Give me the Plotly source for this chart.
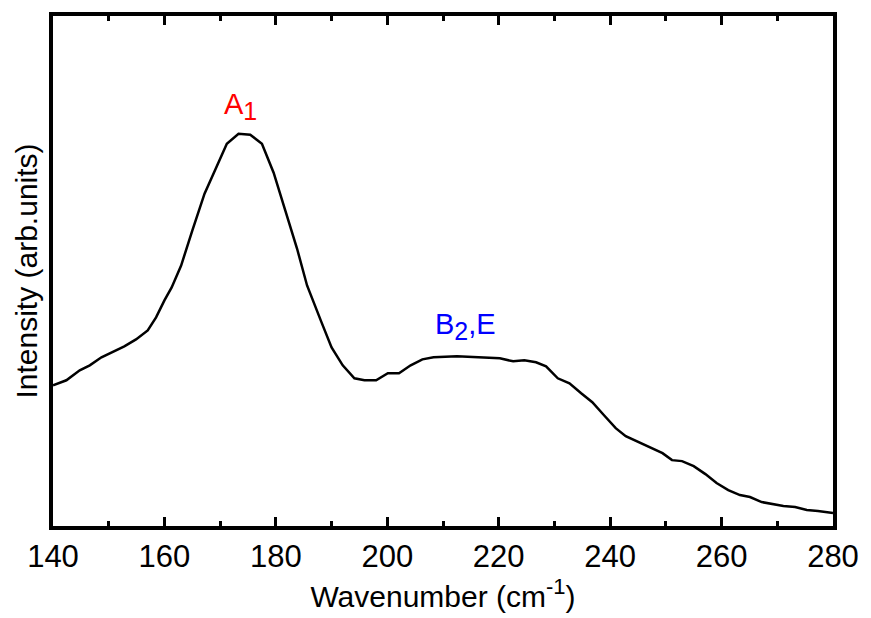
import plotly.graph_objects as go

wavenumber = [140.0, 142.4, 144.8, 146.6, 148.7, 150.7, 152.8, 154.9, 157.0, 158.5, 160.0,
              161.3, 163.0, 165.0, 167.2, 169.2, 171.2, 173.3, 175.4, 177.5, 179.6,
              181.7, 183.8, 185.6, 187.3, 188.2, 190.0, 192.0, 194.1, 195.9, 198.0,
              200.1, 202.1, 204.2, 206.3, 208.3, 212.5, 216.0, 218.4, 220.2, 222.6,
              224.6, 226.7, 228.5, 230.6, 232.7, 234.8, 236.8, 238.9, 241.0, 242.8,
              245.2, 247.3, 249.4, 251.1, 252.9, 255.0, 257.1, 259.1, 261.2, 263.3,
              265.1, 267.2, 269.3, 271.1, 273.2, 275.3, 277.3, 280.0]
intensity = [141, 146, 156, 161, 169, 174, 180, 187, 196, 209, 226,
             239, 261, 296, 333, 358, 383, 393, 392, 383, 354,
             316, 278, 241, 218, 204, 179, 161, 148, 146, 146,
             153, 153, 161, 167, 169, 170, 169, 168, 168, 165,
             166, 164, 160, 148, 143, 133, 124, 111, 98, 90,
             84, 79, 73, 66, 65, 60, 52, 43, 36, 31,
             29, 24, 22, 20, 19, 16, 15, 13]

x_ticks = [140, 160, 180, 200, 220, 240, 260, 280]
peak_labels = ["A<sub><span style='font-size:25px'>1</span></sub>",
               "B<sub><span style='font-size:25px'>2</span></sub>,E"]
peak_x = [173.6, 214.1]
peak_y = [420, 200]
peak_colors = ["#ff0000", "#0000ff"]

fig = go.Figure()
fig.add_trace(go.Scatter(x=wavenumber, y=intensity, mode="lines",
                         line=dict(color="black", width=2.5), showlegend=False))

for lab, px, py, col in zip(peak_labels, peak_x, peak_y, peak_colors):
    fig.add_annotation(x=px, y=py, text=lab, showarrow=False,
                       font=dict(family="Liberation Sans, Arial", size=29, color=col))

common_x = dict(range=[140, 280], tickvals=x_ticks, ticks="inside", ticklen=9,
                tickwidth=3, tickcolor="black", showgrid=False, zeroline=False,
                minor=dict(ticks="inside", dtick=10, ticklen=5, tickwidth=3,
                           tickcolor="black", showgrid=False))

fig.update_layout(
    width=871, height=618,
    margin=dict(l=53, r=32, t=15, b=92),
    paper_bgcolor="white", plot_bgcolor="white",
    font=dict(family="Liberation Sans, Arial", color="black"),
    xaxis=dict(**common_x, showline=True, linewidth=4, linecolor="black",
               mirror=True, tickfont=dict(size=31),
               title=dict(text="Wavenumber (cm<sup><span style='font-size:22px'>-1</span></sup>)",
                          font=dict(size=30), standoff=10)),
    xaxis2=dict(**common_x, overlaying="x", side="top", showticklabels=False,
                showline=False, matches="x"),
    yaxis=dict(range=[0, 511], showticklabels=False, ticks="", showline=True,
               linewidth=4, linecolor="black", mirror=True, showgrid=False,
               zeroline=False, title=dict(text="Intensity (arb.units)",
               font=dict(size=30), standoff=4)),
)
fig.add_trace(go.Scatter(x=[140], y=[0], xaxis="x2", mode="markers",
                         marker=dict(opacity=0), showlegend=False, hoverinfo="skip"))

fig.write_html("out.html")
